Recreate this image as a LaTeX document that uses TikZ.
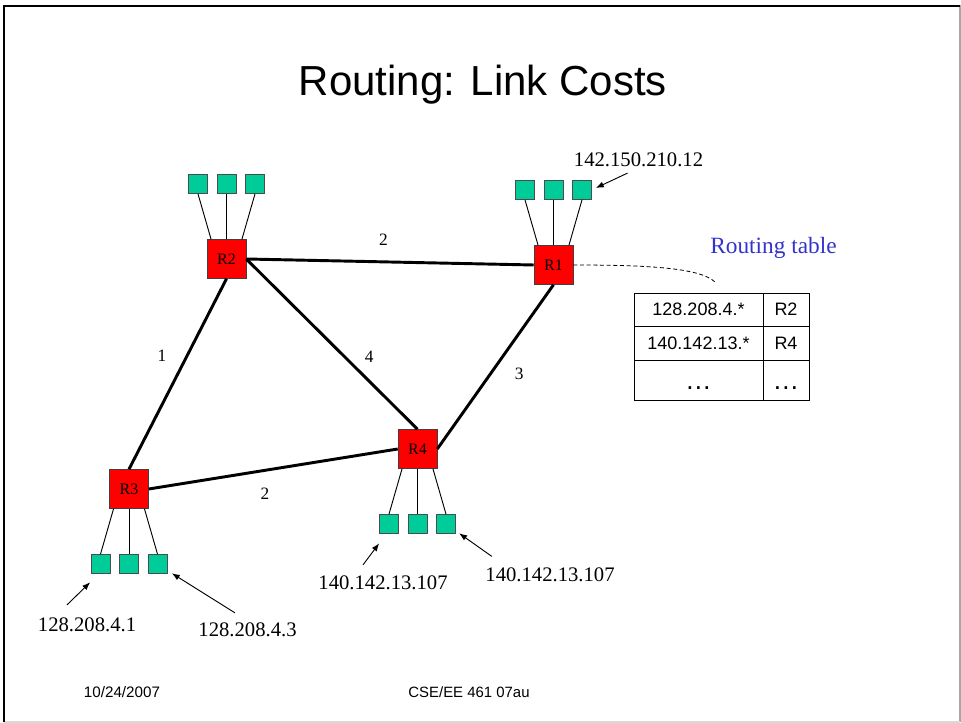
\documentclass[tikz,border=0pt]{standalone}
\usepackage{fontspec}
\setmainfont{Liberation Serif}
\setsansfont{Liberation Sans}
\usepackage{xcolor}
\usetikzlibrary{positioning, arrows.meta}

\definecolor{routerred}{RGB}{255,0,0}
\definecolor{hostgreen}{RGB}{0,204,153}
\definecolor{noteblue}{RGB}{51,51,204}

\tikzset{
  router/.style={draw=black!75, fill=routerred, minimum size=29.25pt, inner sep=0pt, font=\fontsize{12}{13}\selectfont},
  host/.style={draw=black!70, fill=hostgreen, minimum size=14.25pt, inner sep=0pt},
  link/.style={line width=2.2pt},
  tap/.style={line width=0.7pt},
  cost/.style={font=\fontsize{13}{14}\selectfont},
  addr/.style={font=\fontsize{15.5}{16}\selectfont, inner sep=1pt},
  pointer/.style={-{Latex[length=6pt,width=4.5pt]}, line width=0.7pt},
  cell/.style={draw, line width=0.7pt, inner sep=0pt, outer sep=0pt, text height=9.7pt, text depth=0pt,
    font=\sffamily\fontsize{13.5}{14}\selectfont},
  more/.style={font=\sffamily\fontsize{20}{20}\selectfont, text height=14.3pt},
}

\begin{document}
\begin{tikzpicture}[x=0.75pt, y=-0.75pt, node distance=56.25pt, on grid]
  \useasboundingbox (0,0) rectangle (961,723);

  % slide frame
  \draw[black!35, line width=0.8pt] (960,5) -- (960,722);
  \draw[black!15, line width=0.8pt] (4,722) -- (960,722);
  \draw[line width=1.6pt] (4,722) -- (4,6) -- (960,6);

  \node[anchor=base, font=\sffamily\fontsize{31.5}{34}\selectfont] (title) at (483,96) {Routing: Link Costs};

  % routers
  \node[router] (r1) at (553.5,265) {R1};
  \node[router] (r2) at (226.5,259) {R2};
  \node[router] (r3) at (129,489)   {R3};
  \node[router] (r4) at (417.5,449) {R4};

  % hosts above R1, R2 and below R3, R4
  \foreach \k in {1,2} {
    \node[host] (h\k b) [above=of r\k] {};
    \node[host] (h\k a) [left=21.4pt of h\k b] {};
    \node[host] (h\k c) [right=21.4pt of h\k b] {};
    \draw[tap] (h\k a.south) -- (r\k.128);
    \draw[tap] (h\k b.south) -- (r\k.north);
    \draw[tap] (h\k c.south) -- (r\k.52);
  }
  \foreach \k in {3,4} {
    \node[host] (h\k b) [below=of r\k] {};
    \node[host] (h\k a) [left=21.4pt of h\k b] {};
    \node[host] (h\k c) [right=21.4pt of h\k b] {};
    \draw[tap] (h\k a.north) -- (r\k.232);
    \draw[tap] (h\k b.north) -- (r\k.south);
    \draw[tap] (h\k c.north) -- (r\k.308);
  }

  % links with their costs
  \path[link]
    (r2.east)  edge node[cost, pos=.477, yshift=16.4pt] {2} (r1.west)
    (r2.south) edge node[cost, pos=.406, xshift=-18.7pt] {1} (r3.north)
    (r2.east)  edge node[cost, pos=.647, xshift=9.2pt, yshift=9.2pt] {4} (r4.north)
    (r1.south) edge node[cost, pos=.461, xshift=14.4pt, yshift=-10.2pt] {3} (r4.east)
    (r3.east)  edge node[cost, pos=.467, yshift=-17.8pt] {2} (r4.west);

  % host addresses
  \node[addr] (ip1)  at (638.5,159.5) {142.150.210.12};
  \node[addr] (ip3a) at (87,624.5)    {128.208.4.1};
  \node[addr] (ip3c) at (247.5,629.5) {128.208.4.3};
  \node[addr] (ip4a) at (383,582.5)   {140.142.13.107};
  \node[addr] (ip4c) at (550,575)     {140.142.13.107};

  \draw[pointer] ([shift={(-11,5)}]ip1.south) -- ([shift={(4,-2)}]h1c.east);
  \draw[pointer] ([shift={(-20,-11)}]ip3a.north) -- ([shift={(-0.5,8.5)}]h3a.south west);
  \draw[pointer] ([shift={(-12.5,-8)}]ip3c.north) -- ([shift={(4.5,-0.5)}]h3c.south east);
  \draw[pointer] ([shift={(-20,-9)}]ip4a.north) -- ([shift={(0,9.5)}]h4a.south west);
  \draw[pointer] ([shift={(8,-10)}]ip4c.north west) -- ([shift={(3.3,-0.5)}]h4c.south east);

  % routing table of R1
  \node[text=noteblue, font=\fontsize{17.5}{18}\selectfont] (rtlabel) at (773.5,248) {Routing table};
  \coordinate (rthook) at (715,282);
  \draw[dash pattern=on 3pt off 2pt, line width=0.6pt] (r1.east) .. controls (650,265) and (700,268) .. (rthook);

  \node[cell, minimum width=96.75pt, minimum height=24.75pt] (t11) at (698.5,309.5) {128.208.4.*};
  \node[cell, minimum width=34.5pt,  minimum height=24.75pt] (t12) at (786,309.5)   {R2};
  \node[cell, minimum width=96.75pt, minimum height=25.5pt]  (t21) at (698.5,343)   {140.142.13.*};
  \node[cell, minimum width=34.5pt,  minimum height=25.5pt]  (t22) at (786,343)     {R4};
  \node[cell, more, minimum width=96.75pt, minimum height=30pt] (t31) at (698.5,380) {\textellipsis};
  \node[cell, more, minimum width=34.5pt,  minimum height=30pt] (t32) at (786,380)   {\textellipsis};

  % footer
  \node[font=\sffamily\fontsize{11.4}{12}\selectfont] (date)   at (122,692.5) {10/24/2007};
  \node[font=\sffamily\fontsize{11.2}{12}\selectfont] (course) at (469,692.5) {CSE/EE 461 07au};
\end{tikzpicture}
\end{document}
